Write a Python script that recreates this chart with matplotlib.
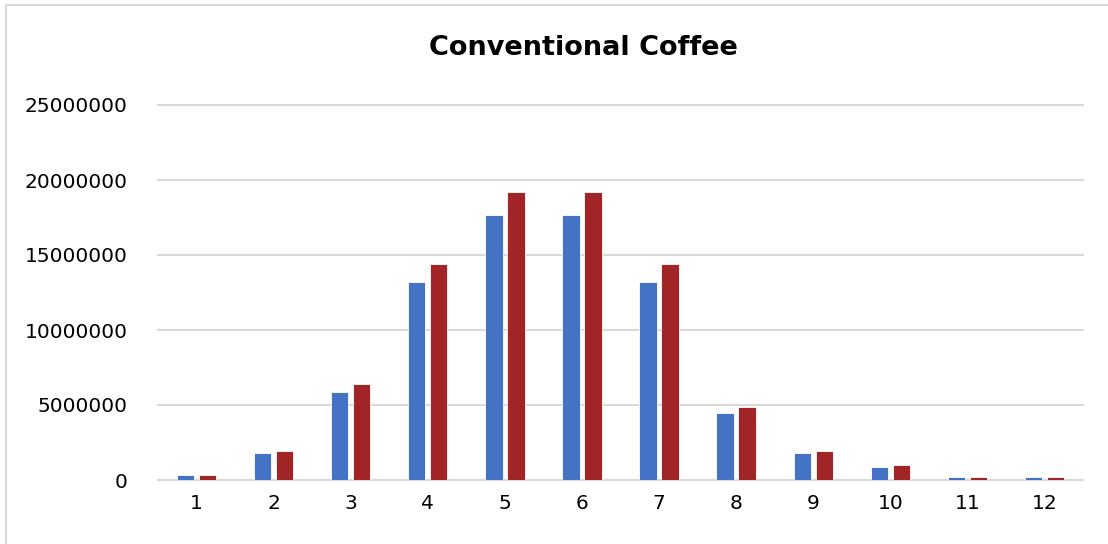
import numpy as np
import matplotlib.pyplot as plt
from matplotlib.patches import Rectangle

# Monthly values for the two series
months = ['1', '2', '3', '4', '5', '6', '7', '8', '9', '10', '11', '12']
series_a = [310000, 1770000, 5900000, 13200000, 17650000, 17650000,
            13200000, 4450000, 1780000, 900000, 180000, 180000]
series_b = [340000, 1940000, 6420000, 14400000, 19230000, 19230000,
            14400000, 4850000, 1950000, 1000000, 190000, 190000]
yticks = [0, 5000000, 10000000, 15000000, 20000000, 25000000]

plt.rcParams['font.family'] = ['DejaVu Sans']

fig = plt.figure(figsize=(11.08, 5.44), dpi=100)
ax = fig.add_axes([158 / 1108, 64 / 544, 925 / 1108, 375 / 544])

# light chart-area frame
fig.patches.append(Rectangle((6 / 1108, -0.1), 1.2, 1.1 - 5 / 544, transform=fig.transFigure,
                             fill=False, edgecolor='#D9D9D9', linewidth=1.5))

x = np.arange(len(months))
w = 0.225
ax.bar(x - 0.143, series_a, width=w, color='#4472C4', edgecolor='white', linewidth=0.6, zorder=3)
ax.bar(x + 0.143, series_b, width=w, color='#A12427', edgecolor='white', linewidth=0.6, zorder=3)

ax.set_xlim(-0.5, len(months) - 0.5)
ax.set_ylim(0, 25000000)
ax.set_yticks(yticks)
ax.set_yticklabels([str(v) for v in yticks])
ax.set_xticks(x)
ax.set_xticklabels(months)
ax.tick_params(length=0, labelsize=14.5, pad=10)
ax.tick_params(axis='y', pad=22)

ax.grid(axis='y', color='#D9D9D9', linewidth=1.5, zorder=0)
for gl in ax.get_ygridlines():
    gl.set_clip_on(False)
for s in ['top', 'right', 'left']:
    ax.spines[s].set_visible(False)
ax.spines['bottom'].set_color('#D9D9D9')
ax.spines['bottom'].set_linewidth(1.5)

fig.text(583 / 1108, 1 - 48 / 544, 'Conventional Coffee', ha='center', va='center',
         fontsize=19.5, fontweight='bold')

fig.savefig('out.png', dpi=100)
